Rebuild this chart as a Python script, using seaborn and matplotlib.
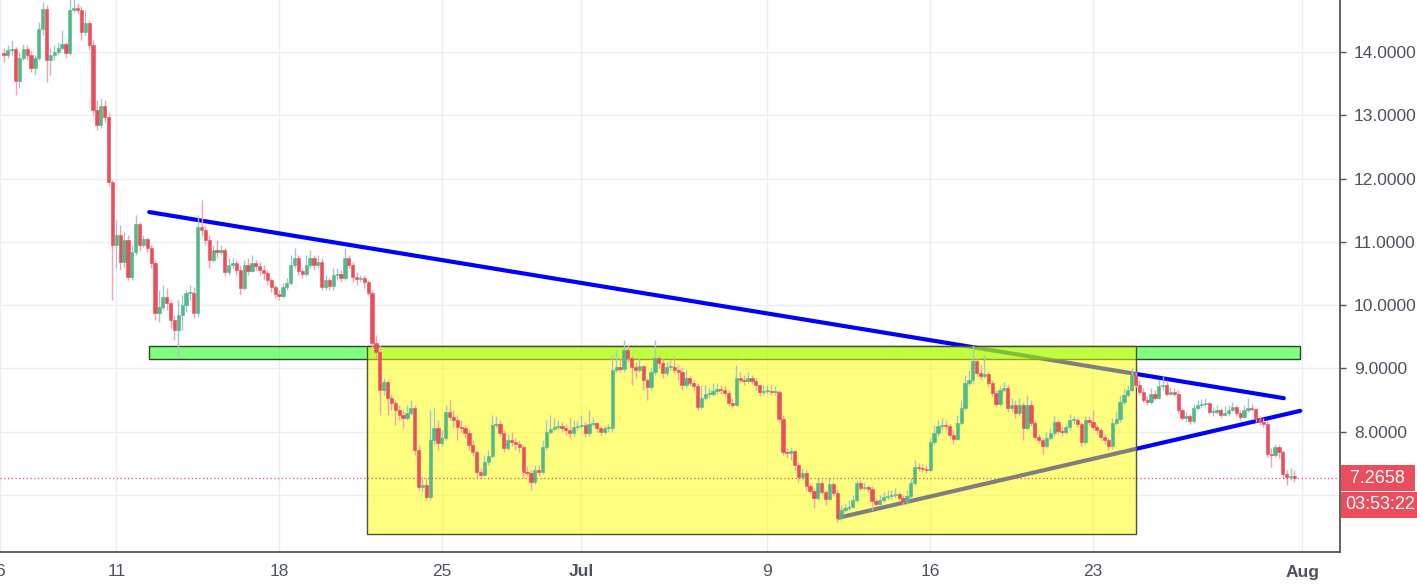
"""
EOS/USD 4h chart with triangle and range box, TradingView style.
"""

import numpy as np
import pandas as pd
import matplotlib
matplotlib.use('Agg')
import matplotlib.pyplot as plt
import matplotlib.dates as mdates
from matplotlib.patches import Rectangle
import seaborn as sns

# 4h candles, open of each candle = previous close
first_open = 13.98
first_candle = '2018-06-06 04:00'

closes = [
    13.95, 14.03, 14.05, 13.54, 13.90, 14.05,
    13.95, 13.75, 13.90, 14.36, 14.68, 13.87,
    13.95, 14.00, 14.06, 14.13, 13.98, 14.66,
    14.69, 14.66, 14.31, 14.46, 14.11, 13.08,
    12.85, 13.15, 12.97, 11.95, 10.95, 11.11,
    10.68, 11.03, 10.45, 10.84, 11.28, 10.95,
    11.04, 10.90, 10.66, 9.88, 9.97, 10.13,
    10.03, 9.77, 9.61, 9.84, 10.00, 10.19,
    10.19, 9.88, 11.23, 11.19, 11.03, 10.71,
    10.87, 10.84, 10.87, 10.52, 10.63, 10.66,
    10.56, 10.27, 10.63, 10.54, 10.66, 10.62,
    10.56, 10.51, 10.40, 10.29, 10.18, 10.14,
    10.29, 10.35, 10.63, 10.74, 10.54, 10.49,
    10.63, 10.74, 10.63, 10.68, 10.29, 10.40,
    10.30, 10.48, 10.49, 10.43, 10.74, 10.63,
    10.45, 10.41, 10.43, 10.37, 10.19, 9.40,
    9.26, 8.66, 8.79, 8.53, 8.45, 8.34,
    8.26, 8.22, 8.30, 8.38, 7.71, 7.13,
    7.16, 6.97, 7.87, 8.06, 7.82, 7.90,
    8.31, 8.23, 8.19, 8.08, 8.06, 7.98,
    7.79, 7.68, 7.36, 7.32, 7.52, 7.62,
    8.11, 8.12, 7.98, 7.74, 7.87, 7.84,
    7.81, 7.76, 7.36, 7.35, 7.21, 7.40,
    7.36, 7.76, 8.00, 8.04, 8.08, 8.09,
    8.06, 8.03, 7.98, 8.08, 8.09, 8.11,
    7.98, 8.12, 8.14, 8.06, 8.00, 8.06,
    8.06, 8.97, 9.02, 8.99, 9.29, 9.16,
    9.02, 8.97, 9.04, 8.82, 8.71, 8.94,
    9.16, 9.08, 8.93, 9.02, 9.02, 8.97,
    8.94, 8.74, 8.85, 8.77, 8.72, 8.39,
    8.53, 8.60, 8.60, 8.64, 8.67, 8.66,
    8.61, 8.45, 8.42, 8.85, 8.82, 8.80,
    8.85, 8.80, 8.74, 8.63, 8.64, 8.64,
    8.63, 8.63, 8.20, 7.68, 7.66, 7.70,
    7.48, 7.29, 7.35, 7.14, 7.06, 6.95,
    7.19, 7.05, 6.94, 7.18, 7.03, 6.64,
    6.76, 6.79, 6.81, 6.92, 7.19, 7.11,
    7.13, 7.10, 6.91, 6.86, 6.92, 6.97,
    6.98, 7.00, 7.02, 6.95, 6.89, 6.98,
    7.19, 7.44, 7.43, 7.41, 7.40, 7.84,
    7.98, 8.09, 8.11, 8.09, 7.95, 7.89,
    8.14, 8.38, 8.77, 8.82, 9.12, 8.93,
    8.88, 8.91, 8.77, 8.61, 8.44, 8.66,
    8.69, 8.38, 8.42, 8.30, 8.42, 8.06,
    8.42, 8.14, 7.92, 7.87, 7.78, 7.90,
    7.98, 8.15, 8.01, 8.00, 8.08, 8.19,
    8.19, 8.12, 7.84, 8.19, 8.15, 8.08,
    8.03, 7.92, 7.87, 7.78, 8.14, 8.20,
    8.47, 8.58, 8.66, 8.90, 8.74, 8.63,
    8.50, 8.47, 8.60, 8.53, 8.72, 8.74,
    8.60, 8.63, 8.60, 8.34, 8.22, 8.25,
    8.17, 8.38, 8.42, 8.44, 8.45, 8.31,
    8.31, 8.34, 8.26, 8.30, 8.34, 8.39,
    8.30, 8.23, 8.34, 8.38, 8.36, 8.20,
    8.15, 8.12, 7.65, 7.63, 7.76, 7.68,
    7.33, 7.29, 7.30, 7.2658,
]

highs = [
    14.06, 14.11, 14.19, 14.08, 14.00, 14.13,
    14.11, 14.03, 13.95, 14.47, 14.79, 14.74,
    14.06, 14.11, 14.16, 14.35, 14.16, 14.85,
    14.85, 14.77, 14.73, 14.66, 14.50, 14.19,
    13.24, 13.27, 13.24, 13.05, 11.98, 11.35,
    11.27, 11.16, 11.11, 10.95, 11.42, 11.31,
    11.11, 11.08, 10.95, 10.71, 10.24, 10.32,
    10.27, 10.08, 9.84, 10.08, 10.16, 10.24,
    10.32, 10.29, 11.42, 11.66, 11.27, 11.11,
    10.95, 11.03, 10.95, 10.90, 10.74, 10.74,
    10.71, 10.63, 10.71, 10.74, 10.79, 10.71,
    10.68, 10.63, 10.56, 10.43, 10.32, 10.24,
    10.35, 10.43, 10.79, 10.90, 10.79, 10.59,
    10.79, 10.87, 10.79, 10.79, 10.74, 10.48,
    10.43, 10.59, 10.59, 10.56, 10.90, 10.79,
    10.68, 10.52, 10.48, 10.48, 10.40, 10.24,
    9.53, 9.37, 8.85, 8.82, 8.58, 8.50,
    8.42, 8.34, 8.42, 8.50, 8.42, 7.79,
    7.30, 7.27, 8.34, 8.37, 8.19, 8.03,
    8.42, 8.50, 8.34, 8.26, 8.19, 8.11,
    8.03, 7.87, 7.71, 7.43, 7.63, 7.71,
    8.26, 8.25, 8.19, 8.03, 7.96, 8.00,
    7.90, 7.87, 7.79, 7.46, 7.40, 7.48,
    7.48, 7.87, 8.19, 8.26, 8.22, 8.19,
    8.15, 8.12, 8.22, 8.19, 8.17, 8.26,
    8.15, 8.34, 8.22, 8.15, 8.09, 8.11,
    8.12, 9.21, 9.29, 9.16, 9.45, 9.37,
    9.21, 9.10, 9.16, 9.05, 8.85, 9.00,
    9.45, 9.21, 9.16, 9.10, 9.13, 9.18,
    9.05, 9.00, 8.97, 8.90, 8.82, 8.77,
    8.74, 8.74, 8.69, 8.77, 8.77, 8.74,
    8.72, 8.66, 8.53, 9.05, 8.94, 8.90,
    8.94, 8.90, 8.85, 8.74, 8.74, 8.74,
    8.74, 8.72, 8.66, 8.26, 7.74, 7.76,
    7.68, 7.52, 7.43, 7.40, 7.17, 7.11,
    7.27, 7.24, 7.08, 7.27, 7.21, 7.08,
    6.84, 6.87, 6.92, 7.00, 7.24, 7.24,
    7.21, 7.16, 7.14, 6.95, 7.00, 7.05,
    7.08, 7.08, 7.11, 7.05, 7.00, 7.08,
    7.27, 7.55, 7.51, 7.49, 7.48, 7.90,
    8.11, 8.19, 8.22, 8.19, 8.12, 8.03,
    8.26, 8.50, 8.90, 8.97, 9.37, 9.16,
    9.05, 9.21, 8.94, 8.82, 8.66, 8.72,
    8.79, 8.74, 8.53, 8.50, 8.53, 8.47,
    8.58, 8.50, 8.19, 7.96, 7.90, 8.00,
    8.06, 8.25, 8.19, 8.09, 8.12, 8.28,
    8.25, 8.22, 8.15, 8.25, 8.25, 8.34,
    8.11, 8.06, 7.96, 7.90, 8.22, 8.31,
    8.58, 8.69, 8.74, 9.01, 8.95, 8.82,
    8.69, 8.56, 8.69, 8.66, 8.82, 8.88,
    8.82, 8.71, 8.69, 8.66, 8.37, 8.31,
    8.28, 8.44, 8.50, 8.52, 8.53, 8.47,
    8.39, 8.42, 8.37, 8.41, 8.42, 8.47,
    8.42, 8.34, 8.42, 8.53, 8.44, 8.37,
    8.25, 8.22, 8.19, 7.74, 7.81, 7.79,
    7.71, 7.40, 7.43, 7.40,
]

lows = [
    13.84, 13.90, 13.95, 13.32, 13.43, 13.87,
    13.87, 13.68, 13.64, 13.87, 14.27, 13.53,
    13.64, 13.87, 13.95, 14.03, 13.90, 13.95,
    14.63, 14.60, 14.19, 14.27, 14.03, 13.00,
    12.77, 12.80, 12.89, 11.88, 10.08, 10.59,
    10.56, 10.59, 10.40, 10.40, 10.79, 10.87,
    10.92, 10.84, 10.59, 9.77, 9.73, 9.92,
    9.92, 9.64, 9.45, 9.16, 9.61, 9.89,
    10.08, 9.80, 9.83, 11.09, 10.95, 10.59,
    10.68, 10.74, 10.79, 10.46, 10.48, 10.59,
    10.48, 10.16, 10.24, 10.48, 10.52, 10.56,
    10.48, 10.40, 10.32, 10.21, 10.11, 10.08,
    10.11, 10.24, 10.32, 10.59, 10.48, 10.43,
    10.46, 10.59, 10.56, 10.59, 10.24, 10.24,
    10.24, 10.24, 10.40, 10.37, 10.40, 10.59,
    10.37, 10.32, 10.37, 10.27, 10.16, 9.32,
    9.16, 8.26, 8.58, 8.26, 8.34, 8.11,
    8.19, 8.06, 8.19, 8.26, 7.63, 7.08,
    7.05, 6.92, 6.92, 7.79, 7.71, 7.77,
    7.87, 8.19, 8.06, 7.87, 8.00, 7.90,
    7.71, 7.62, 7.27, 7.27, 7.30, 7.48,
    7.58, 8.06, 7.93, 7.68, 7.71, 7.77,
    7.71, 7.68, 7.27, 7.30, 7.08, 7.17,
    7.30, 7.33, 7.71, 7.96, 8.03, 8.03,
    8.00, 7.95, 7.90, 7.93, 8.03, 8.06,
    7.92, 7.93, 8.09, 8.00, 7.95, 7.96,
    8.00, 8.00, 8.94, 8.94, 8.94, 9.10,
    8.74, 8.85, 8.94, 8.66, 8.50, 8.66,
    8.90, 9.00, 8.85, 8.88, 8.97, 8.93,
    8.82, 8.66, 8.69, 8.72, 8.66, 8.34,
    8.36, 8.50, 8.53, 8.56, 8.60, 8.60,
    8.56, 8.41, 8.37, 8.41, 8.77, 8.74,
    8.77, 8.75, 8.66, 8.56, 8.58, 8.60,
    8.58, 8.58, 8.15, 7.63, 7.58, 7.55,
    7.40, 7.21, 7.24, 7.08, 7.02, 6.79,
    6.92, 7.00, 6.84, 6.92, 6.98, 6.58,
    6.61, 6.73, 6.76, 6.79, 6.89, 7.08,
    7.08, 7.05, 6.76, 6.81, 6.84, 6.89,
    6.92, 6.94, 6.95, 6.92, 6.84, 6.86,
    6.95, 7.16, 7.38, 7.36, 7.35, 7.36,
    7.79, 7.93, 8.03, 8.03, 7.90, 7.81,
    7.87, 8.11, 8.34, 8.72, 8.75, 8.88,
    8.82, 8.85, 8.72, 8.56, 8.39, 8.41,
    8.63, 8.31, 8.31, 8.22, 8.25, 7.87,
    8.03, 8.09, 7.87, 7.82, 7.65, 7.74,
    7.87, 7.93, 7.96, 7.93, 7.96, 8.03,
    8.12, 8.07, 7.77, 7.81, 8.11, 8.03,
    7.96, 7.87, 7.81, 7.71, 7.73, 8.11,
    8.15, 8.42, 8.55, 8.63, 8.71, 8.58,
    8.47, 8.42, 8.44, 8.50, 8.52, 8.66,
    8.56, 8.58, 8.56, 8.30, 8.19, 8.15,
    8.12, 8.14, 8.34, 8.37, 8.41, 8.28,
    8.25, 8.28, 8.22, 8.25, 8.25, 8.33,
    8.25, 8.19, 8.22, 8.31, 8.33, 8.15,
    8.11, 8.07, 7.60, 7.44, 7.60, 7.58,
    7.27, 7.16, 7.24, 7.21,
]

# drawn studies
upper_trend_dates = ['2018-06-12 10:00', '2018-07-31 05:00']
upper_trend_prices = [11.47, 8.53]
lower_trend_dates = ['2018-07-12 01:00', '2018-07-31 22:00']
lower_trend_prices = [6.64, 8.33]
support_dates = ['2018-06-12 10:00', '2018-07-31 22:00']
support_prices = [9.15, 9.36]
range_dates = ['2018-06-21 18:30', '2018-07-24 20:40']
range_prices = [6.38, 9.36]
countdown = '03:53:22'

xtick_dates = ['2018-06-06', '2018-06-11', '2018-06-18', '2018-06-25', '2018-07-01',
               '2018-07-09', '2018-07-16', '2018-07-23', '2018-08-01']
xtick_labels = ['6', '11', '18', '25', 'Jul', '9', '16', '23', 'Aug']
ytick_values = [7, 8, 9, 10, 11, 12, 13, 14]

UP = '#53b987'
DOWN = '#eb4d5c'
UP_WICK = '#a3c6cc'
DOWN_WICK = '#f3a3ab'
TEXT = '#4c525e'

sns.set_theme(style='white')
plt.rcParams['font.family'] = ['Liberation Sans', 'DejaVu Sans']

fig = plt.figure(figsize=(14.17, 5.85), dpi=100)
ax = fig.add_axes([0, 33 / 585, 1340 / 1417, 552 / 585])

def dnum(values):
    return mdates.date2num(pd.to_datetime(values))

# trend lines (below the boxes, so they turn grey inside the yellow box)
sns.lineplot(x=dnum(upper_trend_dates), y=upper_trend_prices, color='#0000ff',
             lw=3, ax=ax, zorder=2)
sns.lineplot(x=dnum(lower_trend_dates), y=lower_trend_prices, color='#0000ff',
             lw=3, ax=ax, zorder=2)

# support band and range box
sx = dnum(support_dates)
ax.add_patch(Rectangle((sx[0], support_prices[0]), sx[1] - sx[0],
                       support_prices[1] - support_prices[0],
                       fc=(0, 1, 0, 0.5), ec='#34422c', lw=1, zorder=3))
rx = dnum(range_dates)
ax.add_patch(Rectangle((rx[0], range_prices[0]), rx[1] - rx[0],
                       range_prices[1] - range_prices[0],
                       fc=(1, 1, 0, 0.5), ec='#4f4f3a', lw=1, zorder=4))

# candles on top
c = np.array(closes)
o = np.concatenate([[first_open], c[:-1]])
h = np.maximum(np.array(highs), np.maximum(o, c))
l = np.minimum(np.array(lows), np.minimum(o, c))
t = dnum(pd.date_range(first_candle, periods=len(c), freq='4h'))
up = c >= o
body_col = np.where(up, UP, DOWN)

ax.vlines(t, l, h, colors=np.where(up, UP_WICK, DOWN_WICK), lw=1, zorder=5)
ax.bar(t, np.maximum(np.abs(c - o), 0.015), bottom=np.minimum(o, c), width=0.14,
       color=body_col, edgecolor=body_col, linewidth=0.4, zorder=6)

# last price line
ax.axhline(closes[-1], color=DOWN, ls=(0, (1, 2)), lw=0.9, zorder=7)

ax.set_xlim(dnum('2018-06-06 01:00'), dnum('2018-08-02 15:00'))
ax.set_ylim(6.10, 14.82)

ax.set_xticks(dnum(xtick_dates))
ax.set_xticklabels(xtick_labels)
for lab in ax.get_xticklabels():
    if lab.get_text() in ('Jul', 'Aug'):
        lab.set_fontweight('bold')
ax.yaxis.tick_right()
ax.set_yticks(ytick_values)
ax.set_yticklabels(['' if v == 7 else f'{v:.4f}' for v in ytick_values])

ax.grid(True, color='#e8eef2', lw=1, zorder=0)
ax.set_axisbelow(True)
for side in ('top', 'left'):
    ax.spines[side].set_visible(False)
for side in ('right', 'bottom'):
    ax.spines[side].set_visible(True)
    ax.spines[side].set_color('#555555')
    ax.spines[side].set_linewidth(1.3)
ax.tick_params(axis='both', direction='out', length=4, width=1, color='#555555',
               labelcolor=TEXT, labelsize=12.5)
ax.tick_params(axis='x', pad=5)
ax.tick_params(axis='y', pad=6)

# price and countdown labels on the scale
ax.text(1.004, closes[-1], f' {closes[-1]:.4f} ', transform=ax.get_yaxis_transform(),
        ha='left', va='center', color='white', fontsize=13, clip_on=False,
        bbox=dict(boxstyle='square,pad=0.25', fc=DOWN, ec='none'), zorder=10)
ax.annotate(countdown, xy=(1.004, closes[-1]), xycoords=ax.get_yaxis_transform(),
            xytext=(0, -19), textcoords='offset points', ha='left', va='center',
            color='white', fontsize=13, annotation_clip=False,
            bbox=dict(boxstyle='square,pad=0.25', fc=DOWN, ec='none'), zorder=10)

fig.savefig('out.png', dpi=100)
